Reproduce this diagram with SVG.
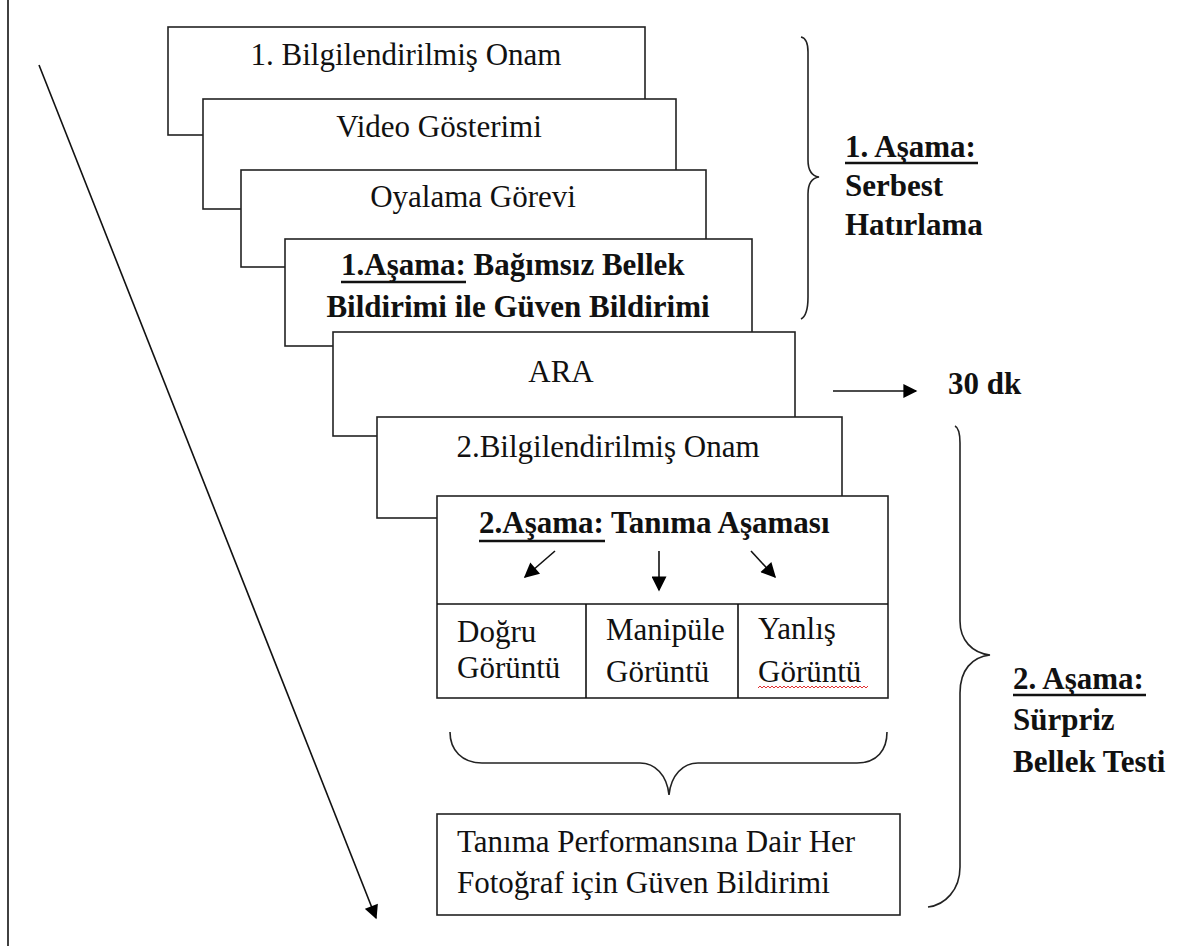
<svg xmlns="http://www.w3.org/2000/svg" width="1192" height="946" viewBox="0 0 1192 946">
<defs>
<style>
.box{fill:#fff;stroke:#222;stroke-width:1.6}
.t{font-family:"Liberation Serif","Times New Roman",serif;font-size:31px;fill:#111}
.b{font-weight:bold}
.c{text-anchor:middle}
.ln{stroke:#111;stroke-width:1.6;fill:none}
.ul{stroke:#111;stroke-width:2.4}
.br{stroke:#222;stroke-width:1.6;fill:none}
</style>
<marker id="ah" viewBox="0 0 10 10" refX="9" refY="5" markerUnits="userSpaceOnUse" markerWidth="16" markerHeight="14" orient="auto">
<path d="M0,0 L10,5 L0,10 z" fill="#000"/>
</marker>
<marker id="ahs" viewBox="0 0 10 10" refX="9" refY="5" markerUnits="userSpaceOnUse" markerWidth="17" markerHeight="15" orient="auto">
<path d="M0,0 L10,5 L0,10 z" fill="#000"/>
</marker>
</defs>
<rect width="1192" height="946" fill="#fff"/>
<line x1="8" y1="0" x2="8" y2="946" stroke="#111" stroke-width="1.6"/>

<g id="node-onam1">
<rect class="box" x="168" y="27" width="477" height="108"/>
<text class="t c" x="406" y="65">1. Bilgilendirilmiş  Onam</text>
</g>
<g id="node-video">
<rect class="box" x="203" y="99" width="473" height="110"/>
<text class="t c" x="439" y="137">Video Gösterimi</text>
</g>
<g id="node-oyalama">
<rect class="box" x="241" y="170" width="465" height="97"/>
<text class="t c" x="473" y="207">Oyalama Görevi</text>
</g>
<g id="node-asama1">
<rect class="box" x="285" y="239" width="467" height="107"/>
<text class="t b" x="341" y="275">1.Aşama: Bağımsız Bellek</text>
<line class="ul" x1="341" y1="282" x2="466" y2="282"/>
<text class="t b c" x="518" y="317">Bildirimi ile Güven Bildirimi</text>
</g>
<g id="node-ara">
<rect class="box" x="333" y="332" width="462" height="104"/>
<text class="t c" x="561" y="382" fill="#000">ARA</text>
</g>
<g id="node-onam2">
<rect class="box" x="377" y="417" width="465" height="101"/>
<text class="t c" x="608" y="457" fill="#2a2a2a">2.Bilgilendirilmiş  Onam</text>
</g>
<g id="node-asama2">
<rect class="box" x="437" y="496" width="451" height="202"/>
<line class="ln" x1="437" y1="604" x2="888" y2="604" stroke="#222"/>
<line class="ln" x1="586" y1="604" x2="586" y2="698" stroke="#222"/>
<line class="ln" x1="738" y1="604" x2="738" y2="698" stroke="#222"/>
<text class="t b" x="479" y="533">2.Aşama: Tanıma Aşaması</text>
<line class="ul" x1="479" y1="541" x2="605" y2="541"/>
<text class="t" x="457" y="642">Doğru</text>
<text class="t" x="457" y="678">Görüntü</text>
<text class="t" x="606" y="640">Manipüle</text>
<text class="t" x="606" y="682">Görüntü</text>
<text class="t" x="758" y="639">Yanlış</text>
<text class="t" x="758" y="682">Görüntü</text>
<path d="M758,688 l2,-2 l2,2 l2,-2 l2,2 l2,-2 l2,2 l2,-2 l2,2 l2,-2 l2,2 l2,-2 l2,2 l2,-2 l2,2 l2,-2 l2,2 l2,-2 l2,2 l2,-2 l2,2 l2,-2 l2,2 l2,-2 l2,2 l2,-2 l2,2 l2,-2 l2,2 l2,-2 l2,2 l2,-2 l2,2 l2,-2 l2,2 l2,-2 l2,2 l2,-2 l2,2 l2,-2 l2,2 l2,-2 l2,2 l2,-2 l2,2 l2,-2 l2,2 l2,-2 l2,2 l2,-2 l2,2 l2,-2 l2,2 l2,-2 l2,2 l2,-2" fill="none" stroke="#e03030" stroke-width="1"/>
</g>
<g id="brace-bottom">
<path class="br" stroke="#444" d="M450,732 C450,750 462,763 482,763 L640,763 C655,763 667,775 669,795 C671,775 683,763 698,763 L857,763 C877,763 887,750 887,732"/>
</g>
<g id="node-guven">
<rect class="box" x="437" y="814" width="463" height="101"/>
<text class="t" x="457" y="852">Tanıma Performansına Dair Her</text>
<text class="t" x="457" y="893">Fotoğraf için Güven Bildirimi</text>
</g>

<g id="brace-1">
<path class="br" d="M801,37 C806,38 808,44 808,52 L808,160 C808,170 812,176 819,177 C812,178 808,184 808,194 L808,297 C808,310 805,317 801,319"/>
</g>
<g id="label-1">
<text class="t b" x="845" y="157" fill="#000">1. Aşama:</text>
<line class="ul" x1="845" y1="163" x2="978" y2="163"/>
<text class="t b" x="845" y="196" fill="#000">Serbest</text>
<text class="t b" x="845" y="235" fill="#000">Hatırlama</text>
</g>
<g id="label-30dk">
<text class="t b" x="948" y="394" fill="#000">30 dk</text>
</g>
<g id="brace-2">
<path class="br" d="M955,426 C959,428 960,434 960,443 L960,621 C960,640 972,653 990,655 C972,657 960,670 960,693 L960,867 C960,890 945,905 928,907"/>
</g>
<g id="label-2">
<text class="t b" x="1013" y="689" fill="#000">2. Aşama:</text>
<line class="ul" x1="1013" y1="695" x2="1146" y2="695"/>
<text class="t b" x="1013" y="730" fill="#000">Sürpriz</text>
<text class="t b" x="1013" y="772" fill="#000">Bellek Testi</text>
</g>

<g id="connectors">
<line class="ln" x1="39" y1="65" x2="376" y2="918" stroke="#444" marker-end="url(#ah)"/>
<line class="ln" x1="833" y1="391" x2="916" y2="391" stroke-width="2" marker-end="url(#ah)"/>
<line class="ln" x1="555" y1="551" x2="525" y2="577" stroke-width="2" marker-end="url(#ahs)"/>
<line class="ln" x1="659" y1="551" x2="659" y2="590" stroke-width="2" marker-end="url(#ahs)"/>
<line class="ln" x1="751" y1="551" x2="775" y2="577" stroke-width="2" marker-end="url(#ahs)"/>
</g>
</svg>
